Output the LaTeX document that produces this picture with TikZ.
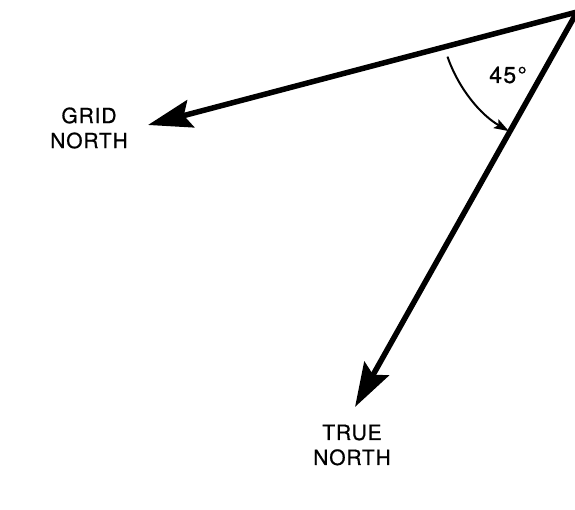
\documentclass[tikz,border=0pt]{standalone}
\usepackage{fontspec}
\setmainfont{TeX Gyre Heros}[LetterSpace=4, FakeBold=0.8]
\usetikzlibrary{arrows.meta,positioning,calc}

\begin{document}
\begin{tikzpicture}[x=1pt, y=-1pt,
    bigarrow/.style={line width=5.5pt, -{Stealth[length=44pt, width=28pt, inset=7pt]}},
    anglearrow/.style={line width=2pt, -{Stealth[length=15pt, width=10pt, inset=3pt]}},
    lbl/.style={font=\fontsize{21}{25}\selectfont, align=center, inner sep=0pt}]
    \useasboundingbox (0,0) rectangle (575,509);
    % Apex and arrow ends
    \coordinate (apex) at (577,12);
    \coordinate (gridtip) at (148,125);
    \coordinate (truetip) at (355,407);

    % Grid north
    \draw[bigarrow] (apex) -- (gridtip);
    \node[lbl] (grid) at (89,128) {GRID\\NORTH};

    % True north
    \draw[bigarrow] (apex) -- (truetip);
    \node[lbl] (true) at (352,445) {TRUE\\NORTH};

    % Angle between them
    \coordinate (arcstart) at ($(apex)+(161:137)$);
    \draw[anglearrow] (arcstart) arc[start angle=161, end angle=120, radius=138];
    \node[lbl, font=\fontsize{23}{25}\selectfont\addfontfeatures{LetterSpace=6}] (angle) at (508,75) {45\textdegree};
\end{tikzpicture}
\end{document}
